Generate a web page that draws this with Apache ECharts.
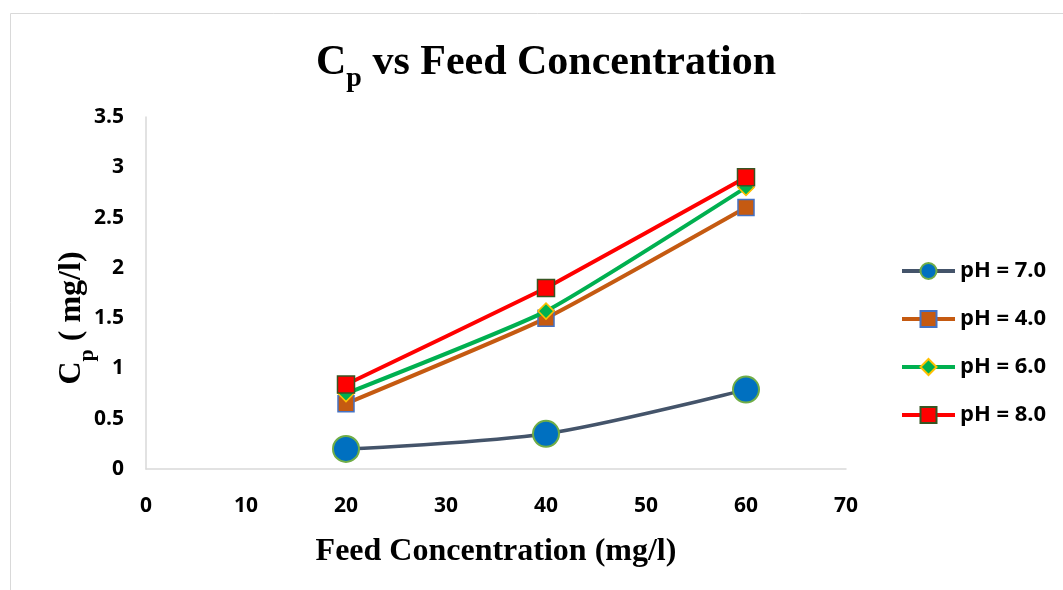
<!DOCTYPE html>
<html>
<head>
<meta charset="utf-8">
<script src="https://cdn.jsdelivr.net/npm/echarts@6/dist/echarts.min.js"></script>
<style>
  html, body { margin: 0; padding: 0; background: #fff; }
  #chart { width: 1063px; height: 590px; }
</style>
</head>
<body>
<div id="chart"></div>
<script>
// Feed concentration (mg/l) on the x axis
const feedConc = [20, 40, 60];
// Permeate concentration Cp (mg/l) for each pH
const cpPH7 = [0.2, 0.35, 0.79];
const cpPH4 = [0.65, 1.5, 2.6];
const cpPH6 = [0.75, 1.57, 2.8];
const cpPH8 = [0.84, 1.8, 2.9];
const seriesNames = ['pH = 7.0', 'pH = 4.0', 'pH = 6.0', 'pH = 8.0'];

const pair = (ys) => feedConc.map((x, i) => [x, ys[i]]);

const chart = echarts.init(document.getElementById('chart'));
const serif = 'Liberation Serif';
const tickFont = { fontFamily: 'Open Sans', fontWeight: 'bold', fontSize: 21, color: '#000' };

chart.setOption({
  animation: false,
  graphic: [
    {
      type: 'rect',
      shape: { x: 10.5, y: 13.5, width: 1070, height: 600 },
      style: { fill: 'none', stroke: '#d9d9d9', lineWidth: 1 }
    },
    {
      // rotated y-axis title with subscript p
      type: 'text',
      x: 72, y: 318, rotation: Math.PI / 2,
      style: {
        text: '{c|C}{p|p}{c| ( mg/l)}',
        align: 'center', verticalAlign: 'middle',
        rich: {
          c: { fontFamily: serif, fontWeight: 'bold', fontSize: 32, fill: '#000' },
          p: { fontFamily: serif, fontWeight: 'bold', fontSize: 22, fill: '#000', verticalAlign: 'bottom', padding: [0, 0, -10, 0] }
        }
      }
    }
  ],
  title: {
    text: '{c|C}{p|p}{c| vs Feed Concentration}',
    left: 541, top: 37, textAlign: 'center',
    textStyle: {
      rich: {
        c: { fontFamily: serif, fontWeight: 'bold', fontSize: 42, color: '#000' },
        p: { fontFamily: serif, fontWeight: 'bold', fontSize: 28, color: '#000', verticalAlign: 'bottom', padding: [0, 0, -9, 0] }
      }
    }
  },
  legend: {
    orient: 'vertical',
    left: 900, top: 260, padding: 0,
    itemWidth: 53, itemHeight: 20, itemGap: 26,
    lineStyle: { width: 4 },
    textStyle: { fontFamily: 'Open Sans', fontWeight: 'bold', fontSize: 22, color: '#000' },
    data: seriesNames
  },
  grid: { left: 146, right: 1063 - 846, top: 117, bottom: 590 - 469, containLabel: false },
  xAxis: {
    type: 'value', min: 0, max: 70, interval: 10,
    axisLine: { show: true, lineStyle: { color: '#d9d9d9', width: 1.5 } },
    axisTick: { show: false },
    splitLine: { show: false },
    axisLabel: Object.assign({ margin: 27 }, tickFont),
    name: 'Feed Concentration (mg/l)',
    nameLocation: 'middle', nameGap: 67,
    nameTextStyle: { fontFamily: serif, fontWeight: 'bold', fontSize: 32, color: '#000' }
  },
  yAxis: {
    type: 'value', min: 0, max: 3.5, interval: 0.5,
    axisLine: { show: true, lineStyle: { color: '#d9d9d9', width: 1.5 } },
    axisTick: { show: false },
    splitLine: { show: false },
    axisLabel: Object.assign({ margin: 22 }, tickFont)
  },
  series: [
    {
      name: seriesNames[0], type: 'line', smooth: 0.3, data: pair(cpPH7),
      symbol: 'circle', symbolSize: 26,
      lineStyle: { color: '#44546A', width: 3.5 },
      itemStyle: { color: '#0070C0', borderColor: '#70AD47', borderWidth: 2 }, z: 2
    },
    {
      name: seriesNames[1], type: 'line', smooth: 0.15, data: pair(cpPH4),
      symbol: 'rect', symbolSize: 16,
      lineStyle: { color: '#C55A11', width: 4 },
      itemStyle: { color: '#C55A11', borderColor: '#4472C4', borderWidth: 1.5 }, z: 3
    },
    {
      name: seriesNames[2], type: 'line', smooth: 0.15, data: pair(cpPH6),
      symbol: 'diamond', symbolSize: 16,
      lineStyle: { color: '#00B050', width: 4 },
      itemStyle: { color: '#00B050', borderColor: '#FFC000', borderWidth: 1.5 }, z: 4
    },
    {
      name: seriesNames[3], type: 'line', smooth: 0.1, data: pair(cpPH8),
      symbol: 'rect', symbolSize: 17,
      lineStyle: { color: '#FF0000', width: 4 },
      itemStyle: { color: '#FF0000', borderColor: '#375623', borderWidth: 1.5 }, z: 5
    }
  ]
});
</script>
</body>
</html>
